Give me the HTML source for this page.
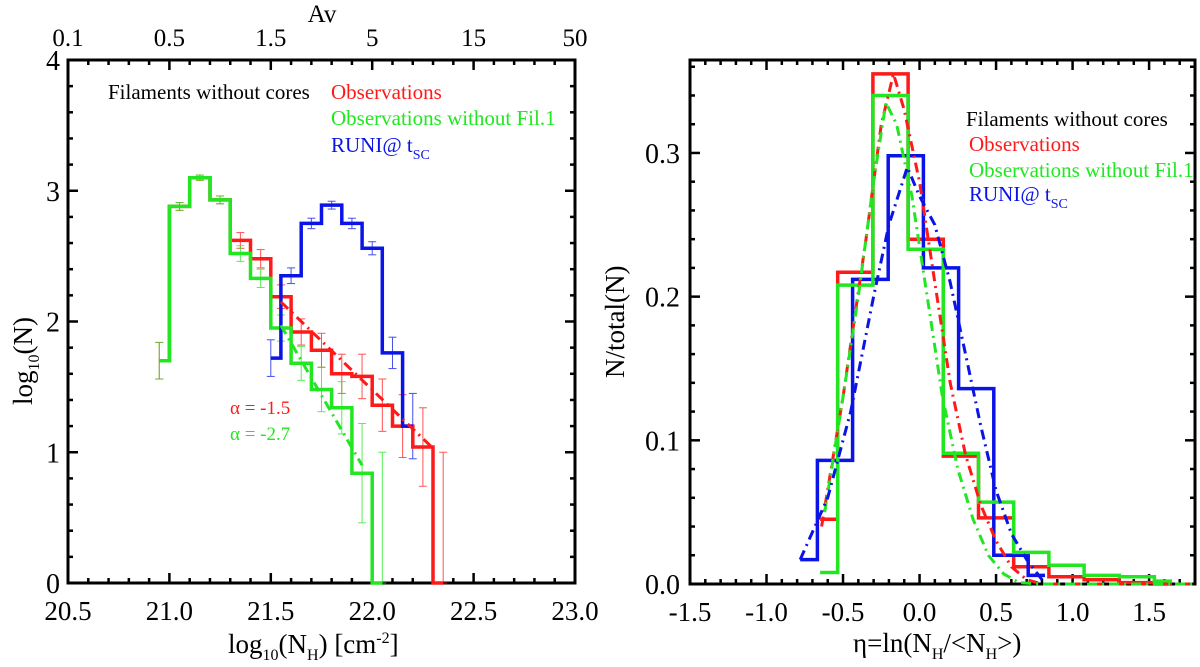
<!DOCTYPE html>
<html><head><meta charset="utf-8"><style>
html,body{margin:0;padding:0;background:#fff;}
svg{display:block;}
svg text{font-family:"Liberation Serif","DejaVu Serif","Noto Serif CJK SC",serif;}
</style></head><body>
<svg id="fig" width="1200" height="667" viewBox="0 0 1200 667" xmlns="http://www.w3.org/2000/svg"></svg>
<script>
// ---------- LEFT PANEL DATA ----------
const leftRedX = [20.95,21.05,21.15,21.25,21.35,21.45,21.55,21.65,21.75,21.85,21.95,22.05,22.15,22.25,22.35];
const leftRedY = [1.7,2.88,3.1,2.93,2.62,2.48,2.19,1.92,1.78,1.60,1.58,1.36,1.2,1.04,0];
const leftRedErr = [0.14,0.03,0.02,0.03,0.06,0.07,0.09,0.1,0.13,0.15,0.17,0.2,0.24,0.3,1.0];
const leftGreenX = [20.95,21.05,21.15,21.25,21.35,21.45,21.55,21.65,21.75,21.85,21.95,22.05];
const leftGreenY = [1.7,2.88,3.1,2.93,2.52,2.33,1.95,1.68,1.48,1.34,0.84,0];
const leftGreenErr = [0.14,0.03,0.02,0.03,0.06,0.07,0.1,0.13,0.17,0.2,0.38,1.0];
const leftBlueX = [21.5,21.6,21.7,21.8,21.9,22.0,22.1,22.2];
const leftBlueY = [1.72,2.35,2.75,2.89,2.75,2.56,1.76,1.2];
const leftBlueErr = [0.14,0.06,0.04,0.03,0.04,0.05,0.12,0.25];
const fitRedX = [21.55,22.3]; const fitRedY = [2.15,1.03];
const fitGreenX = [21.55,21.95]; const fitGreenY = [1.97,0.9];
const leftXTicks = [20.5,21.0,21.5,22.0,22.5,23.0];
const leftXTickLabels = ["20.5","21.0","21.5","22.0","22.5","23.0"];
const leftTopLabels = ["0.1","0.5","1.5","5","15","50"];
const leftYTicks = [0,1,2,3,4];
// ---------- RIGHT PANEL DATA ----------
const rRedX = [-0.65,-0.42,-0.19,0.04,0.27,0.50,0.73,0.96,1.19,1.42,1.65];
const rRedY = [0.045,0.217,0.355,0.24,0.089,0.046,0.012,0.005,0.003,0.001,0.0];
const rGreenX = [-0.65,-0.42,-0.19,0.04,0.27,0.50,0.73,0.96,1.19,1.42,1.65];
const rGreenY = [0.008,0.208,0.34,0.233,0.091,0.057,0.022,0.013,0.006,0.005,0.002];
const rBlueX = [-0.78,-0.555,-0.32,-0.09,0.14,0.37,0.60,0.82];
const rBlueY = [0.017,0.086,0.212,0.298,0.22,0.136,0.02,0.006];
const cRedX = [-0.64,-0.5,-0.35,-0.25,-0.17,-0.1,0,0.1,0.2,0.3,0.4,0.5,0.6,0.7,0.8,1.8];
const cRedY = [0.04,0.13,0.24,0.32,0.355,0.33,0.28,0.21,0.14,0.09,0.055,0.03,0.012,0.003,0,0];
const cGreenX = [-0.62,-0.5,-0.4,-0.3,-0.22,-0.15,-0.05,0.05,0.15,0.25,0.35,0.45,0.55,0.65,0.8,1.8];
const cGreenY = [0.05,0.13,0.2,0.28,0.335,0.32,0.27,0.2,0.13,0.08,0.045,0.02,0.007,0.001,0,0];
const cBlueX = [-0.78,-0.6,-0.45,-0.3,-0.2,-0.08,0,0.1,0.2,0.3,0.4,0.5,0.6,0.7,0.8];
const cBlueY = [0.017,0.06,0.12,0.2,0.25,0.29,0.27,0.25,0.21,0.16,0.11,0.065,0.035,0.017,0.003];
const rXTicks = [-1.5,-1.0,-0.5,0.0,0.5,1.0,1.5];
const rXTickLabels = ["-1.5","-1.0","-0.5","0.0","0.5","1.0","1.5"];
const rYTicks = [0,0.1,0.2,0.3];
const rYTickLabels = ["0.0","0.1","0.2","0.3"];

const svg = document.getElementById('fig');
const NS = 'http://www.w3.org/2000/svg';
function mk(tag, attrs, parent){ const e=document.createElementNS(NS,tag); for(const k in attrs) e.setAttribute(k,attrs[k]); (parent||svg).appendChild(e); return e; }
const RED='#ff1a1a', GREEN='#22e622', BLUE='#0a14e6';

const L = {x0:68,x1:575,y0:583,y1:60,xmin:20.5,xmax:23.0,ymin:0,ymax:4};
const R = {x0:690,x1:1195,y0:584,y1:60,xmin:-1.5,xmax:1.8,ymin:0,ymax:0.3647};
const sx = (P,v)=>P.x0+(v-P.xmin)/(P.xmax-P.xmin)*(P.x1-P.x0);
const sy = (P,v)=>P.y0-(v-P.ymin)/(P.ymax-P.ymin)*(P.y0-P.y1);

function stepPath(P,xs,ys,clip){
  let d=''; const n=xs.length;
  for(let i=0;i<n;i++){
    const a = i===0?xs[0]:(xs[i-1]+xs[i])/2;
    let b = i===n-1?xs[n-1]:(xs[i]+xs[i+1])/2;
    if(clip && b>P.xmax) b=P.xmax;
    const y=sy(P,ys[i]);
    d += (i===0?'M':'L')+sx(P,a).toFixed(1)+','+y.toFixed(1)+' L'+sx(P,b).toFixed(1)+','+y.toFixed(1)+' ';
  }
  return d;
}
function linePath(P,xs,ys){ return xs.map((x,i)=>(i?'L':'M')+sx(P,x).toFixed(1)+','+sy(P,ys[i]).toFixed(1)).join(' '); }

function frame(P,name,xMajor,xMinorStep,yMajorVals,yMinorStep){
  const g=mk('g',{});
  
  
  mk('rect',{x:P.x0,y:P.y1,width:P.x1-P.x0,height:P.y0-P.y1,fill:'none',stroke:'#000','stroke-width':3},g);
  for(let v=P.xmin; v<=P.xmax+1e-9; v+=xMinorStep){
    const major = xMajor.some(m=>Math.abs(m-v)<1e-6);
    const len = major?10:5, x=sx(P,v);
    mk('line',{x1:x,y1:P.y0,x2:x,y2:P.y0-len,stroke:'#000','stroke-width':2.5},g);
    mk('line',{x1:x,y1:P.y1,x2:x,y2:P.y1+len,stroke:'#000','stroke-width':2.5},g);
  }
  for(let v=P.ymin; v<=P.ymax+1e-9; v+=yMinorStep){
    const major = yMajorVals.some(m=>Math.abs(m-v)<1e-6);
    const len = major?10:5, y=sy(P,v);
    mk('line',{x1:P.x0,y1:y,x2:P.x0+len,y2:y,stroke:'#000','stroke-width':2.5},g);
    mk('line',{x1:P.x1,y1:y,x2:P.x1-len,y2:y,stroke:'#000','stroke-width':2.5},g);
  }
  return g;
}
function text(x,y,str,opts){ const t=mk('text',Object.assign({x:x,y:y,'font-size':27,fill:'#000'},opts||{})); t.textContent=str; return t; }

// ---------- LEFT PANEL ----------
frame(L,'left-plot',leftXTicks,0.1,leftYTicks,0.2);
leftXTicks.forEach((v,i)=>{
  const t=text(sx(L,v),620,leftXTickLabels[i],{'text-anchor':'middle'});
  
  
  const t2=text(sx(L,v),46,leftTopLabels[i],{'text-anchor':'middle','font-size':25});
  
  
});
leftYTicks.forEach(v=>{
  const t=text(60,sy(L,v)+10,String(v),{'text-anchor':'end','font-size':28});
  
  
});
let at=text(322,22,'Av',{'text-anchor':'middle','font-size':25});  
let xt=mk('text',{x:228,y:653,'font-size':27});
xt.innerHTML='log<tspan font-size="16" dy="7">10</tspan><tspan dy="-7">(N</tspan><tspan font-size="16" dy="7">H</tspan><tspan dy="-7">) [cm</tspan><tspan font-size="16" dy="-10">-2</tspan><tspan dy="10">]</tspan>';
 
let yt=mk('text',{x:0,y:0,'font-size':27,transform:'translate(32,405) rotate(-90)'});
yt.innerHTML='log<tspan font-size="16" dy="7">10</tspan><tspan dy="-7">(N)</tspan>';
 

function errbars(P,xs,ys,es,color,name){
  const g=mk('g',{stroke:color,'stroke-width':1,opacity:0.75});
   
  xs.forEach((x,i)=>{
    const X=sx(P,x), lo=Math.max(0,ys[i]-es[i]), hi=ys[i]+es[i];
    mk('line',{x1:X,y1:sy(P,lo),x2:X,y2:sy(P,hi)},g);
    mk('line',{x1:X-4,y1:sy(P,hi),x2:X+4,y2:sy(P,hi)},g);
    mk('line',{x1:X-4,y1:sy(P,lo),x2:X+4,y2:sy(P,lo)},g);
  });
}
errbars(L,leftRedX,leftRedY,leftRedErr,RED,'red-error-bars');
errbars(L,leftGreenX,leftGreenY,leftGreenErr,GREEN,'green-error-bars');
errbars(L,leftBlueX,leftBlueY,leftBlueErr,BLUE,'blue-error-bars');
let p;
p=mk('path',{d:stepPath(L,leftRedX,leftRedY),fill:'none',stroke:RED,'stroke-width':3.5});
 
p=mk('path',{d:stepPath(L,leftGreenX,leftGreenY),fill:'none',stroke:GREEN,'stroke-width':3.5});
 
p=mk('path',{d:stepPath(L,leftBlueX,leftBlueY),fill:'none',stroke:BLUE,'stroke-width':3.5});
 
p=mk('path',{d:linePath(L,fitRedX,fitRedY),fill:'none',stroke:RED,'stroke-width':3,'stroke-dasharray':'10,5,2,5'});
 
p=mk('path',{d:linePath(L,fitGreenX,fitGreenY),fill:'none',stroke:GREEN,'stroke-width':3,'stroke-dasharray':'10,5,2,5'});
 
let a1=text(230,414,'α = -1.5',{'font-size':19,fill:RED});  
let a2=text(230,440,'α = -2.7',{'font-size':19,fill:GREEN});  
let l1=text(108,99,'Filaments without cores',{'font-size':21});  
let l2=text(331,99,'Observations',{'font-size':21,fill:RED});  
let l3=text(331,125,'Observations without Fil.1',{'font-size':21,fill:GREEN});  
let l4=mk('text',{x:331,y:152,'font-size':21,fill:BLUE});
l4.innerHTML='RUNI@ t<tspan font-size="14" dy="7">SC</tspan>';
 

// ---------- RIGHT PANEL ----------
frame(R,'right-plot',rXTicks,0.1,rYTicks,0.02);
rXTicks.forEach((v,i)=>{
  const t=text(sx(R,v),621,rXTickLabels[i],{'text-anchor':'middle'});
  
  
});
rYTicks.forEach((v,i)=>{
  const t=text(680,sy(R,v)+10,rYTickLabels[i],{'text-anchor':'end','font-size':28});
  
  
});
let rxt=mk('text',{x:853,y:652,'font-size':27});
rxt.innerHTML='η=ln(N<tspan font-size="16" dy="7">H</tspan><tspan dy="-7">/&lt;N</tspan><tspan font-size="16" dy="7">H</tspan><tspan dy="-7">&gt;)</tspan>';
 
let ryt=text(0,0,'N/total(N)',{'font-size':27,transform:'translate(624,378) rotate(-90)'});
 

p=mk('path',{d:stepPath(R,rRedX,rRedY,true),fill:'none',stroke:RED,'stroke-width':3.5});
 
p=mk('path',{d:stepPath(R,rBlueX,rBlueY,true),fill:'none',stroke:BLUE,'stroke-width':3.5});
 
p=mk('path',{d:stepPath(R,rGreenX,rGreenY,true),fill:'none',stroke:GREEN,'stroke-width':3.5});
 
p=mk('path',{d:linePath(R,cRedX,cRedY),fill:'none',stroke:RED,'stroke-width':3,'stroke-dasharray':'10,5,2,5'});
 
p=mk('path',{d:linePath(R,cGreenX,cGreenY),fill:'none',stroke:GREEN,'stroke-width':3,'stroke-dasharray':'10,5,2,5'});
 
p=mk('path',{d:linePath(R,cBlueX,cBlueY),fill:'none',stroke:BLUE,'stroke-width':3,'stroke-dasharray':'10,5,2,5'});
 
let r1=text(966,126,'Filaments without cores',{'font-size':21});  
let r2=text(969,151,'Observations',{'font-size':21,fill:RED});  
let r3=text(969,177,'Observations without Fil.1',{'font-size':21,fill:GREEN});  
let r4=mk('text',{x:969,y:201,'font-size':21,fill:BLUE});
r4.innerHTML='RUNI@ t<tspan font-size="14" dy="7">SC</tspan>';
 
</script>
</body></html>
